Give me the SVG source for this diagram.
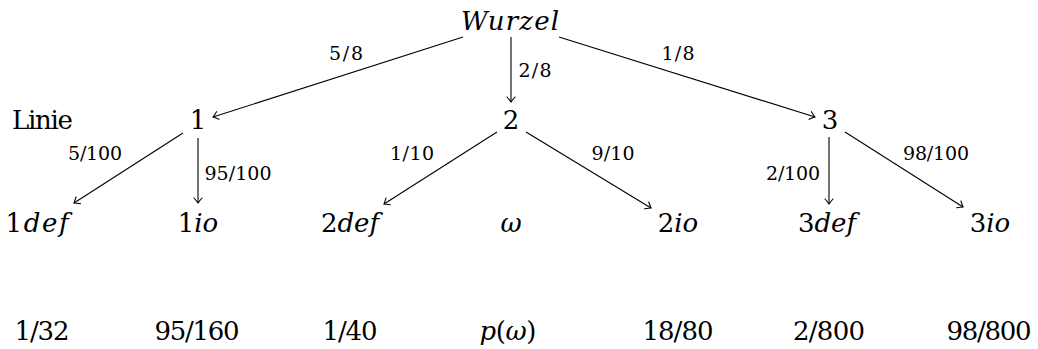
<svg xmlns="http://www.w3.org/2000/svg" width="1038" height="349" viewBox="0 0 1038 349">
<style>
text{font-family:"DejaVu Serif","Liberation Serif",serif;fill:#000}
.n{font-size:26px;text-anchor:middle}
.l{font-size:19px;text-anchor:middle}
.i{font-style:italic}
.e{stroke:#000;stroke-width:1.1;fill:none;marker-end:url(#ar)}
</style>
<defs>
<marker id="ar" markerUnits="userSpaceOnUse" markerWidth="12" markerHeight="12" viewBox="-7 -6 8 12" refX="0" refY="0" orient="auto">
<path d="M-5,-4 Q-1.5,-1 0,0 Q-1.5,1 -5,4" fill="none" stroke="#000" stroke-width="1.1" stroke-linecap="round"/>
</marker>
</defs>
<rect width="1038" height="349" fill="#fff"/>
<g id="connectors">
<line class="e" x1="463" y1="37" x2="213" y2="117"/>
<line class="e" x1="511" y1="37" x2="511" y2="102"/>
<line class="e" x1="559" y1="37" x2="815" y2="117"/>
<line class="e" x1="183" y1="133" x2="74" y2="203"/>
<line class="e" x1="198" y1="138" x2="198" y2="203"/>
<line class="e" x1="497" y1="132" x2="384" y2="204"/>
<line class="e" x1="526" y1="132" x2="651" y2="208"/>
<line class="e" x1="829" y1="137" x2="829" y2="204"/>
<line class="e" x1="845" y1="132" x2="963" y2="207"/>
</g>
<g id="edge-labels">
<text class="l" x="346" y="60" textLength="34">5/8</text>
<text class="l" x="535" y="77" textLength="33">2/8</text>
<text class="l" x="678" y="60" textLength="33">1/8</text>
<text class="l" x="95" y="160" textLength="54">5/100</text>
<text class="l" x="238" y="180" textLength="67">95/100</text>
<text class="l" x="412" y="160" textLength="44">1/10</text>
<text class="l" x="613" y="160" textLength="43">9/10</text>
<text class="l" x="793" y="180" textLength="54">2/100</text>
<text class="l" x="936" y="160" textLength="66">98/100</text>
</g>
<g id="wurzel"><text class="n i" x="510" y="30" textLength="98">Wurzel</text></g>
<g id="linie"><text x="12" y="129" font-size="26" textLength="61">Linie</text></g>
<g id="n1"><text class="n" x="198" y="129">1</text></g>
<g id="n2"><text class="n" x="511" y="129">2</text></g>
<g id="n3"><text class="n" x="830" y="129">3</text></g>
<g id="n1def"><text class="n" x="37" y="232" textLength="63">1<tspan class="i">def</tspan></text></g>
<g id="n1io"><text class="n" x="198" y="232">1<tspan class="i">io</tspan></text></g>
<g id="n2def"><text class="n" x="350" y="232">2<tspan class="i">def</tspan></text></g>
<g id="omega"><text class="n i" x="511" y="232">ω</text></g>
<g id="n2io"><text class="n" x="678" y="232">2<tspan class="i">io</tspan></text></g>
<g id="n3def"><text class="n" x="827" y="232">3<tspan class="i">def</tspan></text></g>
<g id="n3io"><text class="n" x="990" y="232">3<tspan class="i">io</tspan></text></g>
<g id="results">
<text class="n" x="42" y="340" textLength="55">1/32</text>
<text class="n" x="197" y="340" textLength="85">95/160</text>
<text class="n" x="350" y="340" textLength="55">1/40</text>
<text class="n" x="508" y="340" textLength="57"><tspan class="i">p</tspan>(<tspan class="i">ω</tspan>)</text>
<text class="n" x="678" y="340" textLength="71">18/80</text>
<text class="n" x="829" y="340" textLength="72">2/800</text>
<text class="n" x="989" y="340" textLength="85">98/800</text>
</g>
</svg>
